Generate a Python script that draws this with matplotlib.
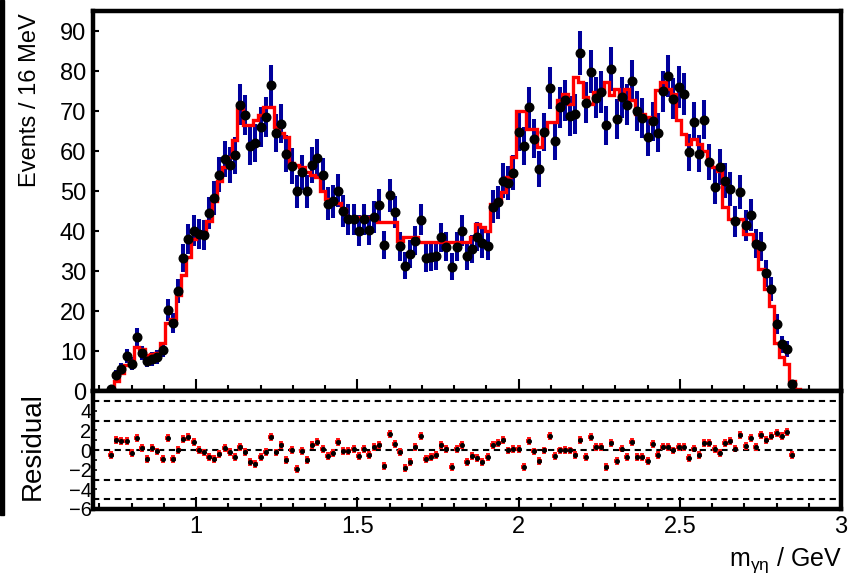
import numpy as np
import matplotlib
matplotlib.use("Agg")
import matplotlib.pyplot as plt
from matplotlib.patches import Rectangle
from matplotlib.ticker import MultipleLocator

plt.rcParams['font.family'] = ['Liberation Sans', 'DejaVu Sans']
plt.rcParams['mathtext.fontset'] = 'custom'
plt.rcParams['mathtext.rm'] = 'Liberation Sans'

# 145 bins of 16 MeV between 0.68 and 3.0 GeV
bin_lo, bin_hi, n_bins = 0.68, 3.0, 145
first_data_bin = 3

events = [0.5, 4.1, 5.6, 8.8, 6.8, 13.5, 9.5, 7.5, 8.0, 8.5,
          10.3, 20.2, 17.0, 25.1, 33.2, 38.0, 40.1, 39.3, 39.0, 44.5,
          48.3, 54.1, 58.0, 56.6, 58.9, 71.6, 69.1, 61.2, 62.0, 66.0,
          68.5, 76.4, 64.5, 66.8, 59.3, 56.2, 49.9, 54.7, 49.9, 56.6,
          58.3, 53.9, 46.8, 47.4, 50.1, 44.9, 42.9, 42.9, 40.1, 42.9,
          40.3, 43.6, 46.4, 36.5, 48.9, 44.7, 36.2, 31.3, 34.3, 37.6,
          42.8, 33.3, 33.6, 33.8, 38.4, 36.1, 31.1, 36.1, 40.1, 33.8,
          35.5, 38.6, 36.9, 36.3, 46.1, 47.2, 52.6, 52.0, 54.6, 64.8,
          61.2, 70.9, 63.1, 55.6, 64.8, 75.8, 62.4, 70.9, 72.7, 68.7,
          69.2, 84.5, 72.1, 79.8, 73.3, 74.8, 66.4, 80.5, 68.1, 73.4,
          71.6, 77.5, 70.0, 68.3, 63.5, 67.4, 64.6, 74.9, 78.8, 73.1,
          76.0, 74.3, 59.7, 67.3, 59.3, 67.8, 57.2, 51.1, 56.0, 52.6,
          50.5, 42.4, 49.7, 41.4, 43.9, 36.8, 36.2, 29.4, 25.5, 16.7,
          11.7, 10.5, 1.8]

errors = [0.4, 1.2, 1.4, 1.8, 1.6, 2.2, 1.8, 1.6, 1.7, 1.7,
          1.9, 2.7, 2.5, 3.0, 3.5, 3.7, 3.8, 3.8, 3.7, 4.0,
          4.2, 4.4, 4.6, 4.5, 4.6, 5.1, 5.0, 4.7, 4.7, 4.9,
          5.0, 5.2, 4.8, 4.9, 4.6, 4.5, 4.2, 4.4, 4.2, 4.5,
          4.6, 4.4, 4.1, 4.1, 4.2, 4.0, 3.9, 3.9, 3.8, 3.9,
          3.8, 4.0, 4.1, 3.6, 4.2, 4.0, 3.6, 3.4, 3.5, 3.7,
          3.9, 3.5, 3.5, 3.5, 3.7, 3.6, 3.3, 3.6, 3.8, 3.5,
          3.6, 3.7, 3.6, 3.6, 4.1, 4.1, 4.4, 4.3, 4.4, 4.8,
          4.7, 5.1, 4.8, 4.5, 4.8, 5.2, 4.7, 5.1, 5.1, 5.0,
          5.0, 5.5, 5.1, 5.4, 5.1, 5.2, 4.9, 5.4, 5.0, 5.1,
          5.1, 5.3, 5.0, 5.0, 4.8, 4.9, 4.8, 5.2, 5.3, 5.1,
          5.2, 5.2, 4.6, 4.9, 4.6, 4.9, 4.5, 4.3, 4.5, 4.4,
          4.3, 3.9, 4.2, 3.9, 4.0, 3.6, 3.6, 3.3, 3.0, 2.5,
          2.1, 1.9, 0.8]

fit = [0, 0, 0, 0.3, 2.5, 4.5, 6.5, 7.5, 11.0, 10.5,
       9.0, 9.2, 9.5, 12.0, 17.0, 18.0, 24.0, 29.0, 33.5, 38.0,
       39.0, 39.0, 42.5, 47.6, 52.6, 55.9, 58.5, 62.7, 70.7, 66.4,
       66.4, 67.7, 68.9, 71.0, 71.0, 66.0, 64.5, 63.5, 57.0, 56.4,
       56.0, 54.7, 54.0, 53.5, 50.0, 48.0, 47.6, 47.0, 45.5, 43.4,
       43.4, 43.4, 43.4, 43.4, 43.4, 42.2, 42.2, 42.2, 42.2, 37.6,
       38.4, 38.4, 38.4, 37.2, 37.2, 37.2, 37.2, 37.2, 37.2, 37.2,
       37.2, 37.2, 37.2, 38.4, 41.8, 41.0, 40.0, 46.8, 47.6, 49.7,
       53.5, 58.5, 70.0, 70.0, 65.6, 65.6, 61.0, 64.8, 67.3, 67.3,
       72.7, 74.3, 71.8, 78.6, 77.3, 73.5, 71.8, 74.8, 74.8, 77.3,
       74.0, 75.6, 73.1, 75.6, 72.7, 69.3, 69.3, 68.5, 66.9, 75.2,
       77.3, 75.6, 74.3, 67.7, 64.3, 61.8, 63.0, 61.8, 60.0, 57.6,
       56.0, 55.0, 46.0, 43.0, 43.0, 43.0, 39.3, 39.3, 37.2, 30.5,
       25.5, 21.3, 12.1, 8.4, 6.7, 2.5, 0.4, 0, 0, 0,
       0, 0, 0, 0, 0]

residuals = [-0.5, 1.05, 0.9, 0.95, -0.3, 1.2, 0.2, -0.9, 0.2, -0.15,
             -0.9, 1.2, -0.9, 0.0, 1.1, 1.3, 0.85, 0.0, -0.25, -0.7,
             -0.9, -0.4, 0.2, -0.2, -0.75, 0.3, -0.2, -1.2, -1.4, -0.7,
             -0.2, 1.3, -0.25, 0.5, -1.0, 0.0, -1.9, -0.1, -1.0, 0.5,
             0.8, 0.1, -0.6, -0.3, 0.85, -0.1, -0.1, 0.1, -0.65, 0.1,
             -0.5, 0.3, 0.55, -1.6, 1.6, 0.6, -0.2, -1.8, -1.2, 0.3,
             1.4, -0.9, -0.7, -0.5, 0.55, 0.1, -1.75, 0.1, 0.5, -1.2,
             -0.6, -0.85, -1.25, -0.75, 0.5, 0.7, 1.0, -0.05, 0.1, 0.1,
             -1.7, 0.9, -0.15, -1.1, -0.05, 1.45, -0.65, -0.05, 0.0, -0.05,
             -0.5, 1.0, -0.7, 1.35, 0.3, 0.3, -1.75, 0.7, -1.1, 0.15,
             -0.7, 0.85, -0.75, -0.75, -1.1, 0.6, -0.5, 0.35, 0.3, -0.05,
             0.3, 0.3, -0.8, 0.15, -0.5, 0.7, 0.7, 0.1, -0.3, 0.7,
             0.95, 0.15, 1.5, 0.45, 1.2, 0.3, 1.5, 1.0, 1.4, 1.7,
             1.45, 1.85, -0.5]
residual_err = 0.4

edges = np.linspace(bin_lo, bin_hi, n_bins + 1)
centers = 0.5 * (edges[:-1] + edges[1:])
half_bin = 0.5 * (edges[1] - edges[0])
x_data = centers[first_data_bin:first_data_bin + len(events)]

W, H = 851, 575
fig = plt.figure(figsize=(W / 100, H / 100), dpi=100)
ax1 = fig.add_axes([93 / W, 1 - 391 / H, 748 / W, 380 / H])
ax2 = fig.add_axes([93 / W, 1 - 509 / H, 748 / W, 118 / H])

# upper panel: data and fit
ax1.errorbar(x_data, events, yerr=errors, fmt='none', ecolor='#00009c',
             elinewidth=2.9, capsize=0, zorder=2)
ax1.stairs(fit, edges, color='#ff0000', linewidth=2.4, zorder=3)
ax1.plot(x_data, events, 'o', color='black', markersize=6.2, zorder=4)
ax1.set_xlim(bin_lo, bin_hi)
ax1.set_ylim(0, 95)
ax1.yaxis.set_major_locator(MultipleLocator(10))
ax1.xaxis.set_major_locator(MultipleLocator(0.5))
ax1.xaxis.set_minor_locator(MultipleLocator(0.1))
ax1.tick_params(axis='x', which='both', direction='in', labelbottom=False, width=1.5)
ax1.tick_params(axis='x', which='major', length=9)
ax1.tick_params(axis='x', which='minor', length=4)
ax1.tick_params(axis='y', direction='in', length=4, width=1.5, labelsize=17, pad=5)

# lower panel: residuals
for lvl in (-5, -3, 0, 3, 5):
    ax2.axhline(lvl, color='black', linestyle=(0, (3, 2.2)), linewidth=1.5, zorder=1)
ax2.errorbar(x_data, residuals, xerr=half_bin, yerr=residual_err, fmt='none',
             ecolor='#ff1010', elinewidth=2.8, capsize=0, zorder=2)
ax2.plot(x_data, residuals, 'o', color='black', markersize=2.6, zorder=3)
ax2.set_xlim(bin_lo, bin_hi)
ax2.set_ylim(-6, 6)
ax2.set_yticks([-6, -4, -2, 0, 2, 4])
ax2.yaxis.set_minor_locator(MultipleLocator(1))
ax2.xaxis.set_minor_locator(MultipleLocator(0.1))
ax2.set_xticks([1, 1.5, 2, 2.5, 3])
ax2.set_xticklabels(['1', '1.5', '2', '2.5', '3'])
ax2.tick_params(axis='x', which='both', direction='in', width=1.5, labelsize=17, pad=5)
ax2.tick_params(axis='x', which='major', length=9)
ax2.tick_params(axis='x', which='minor', length=4.5)
ax2.tick_params(axis='y', which='both', direction='in', length=3, width=1.2,
                labelsize=14.5, pad=1)

for ax in (ax1, ax2):
    for sp in ax.spines.values():
        sp.set_linewidth(3.2)

fig.text(30 / W, 1 - 13 / H, 'Events / 16 MeV', rotation=90, ha='center', va='top', fontsize=17)
fig.text(33 / W, 1 - 392 / H, 'Residual', rotation=90, ha='center', va='top', fontsize=20)
fig.text(842 / W, 1 - 566 / H, r'$\mathregular{m_{γη}}$ / GeV', ha='right', va='baseline', fontsize=18)

# dark strip at the left edge of the reference
fig.add_artist(Rectangle((0, 1 - 515 / H), 4 / W, 515 / H, transform=fig.transFigure,
                         color='black', zorder=10))

fig.savefig('out.png', dpi=100)
